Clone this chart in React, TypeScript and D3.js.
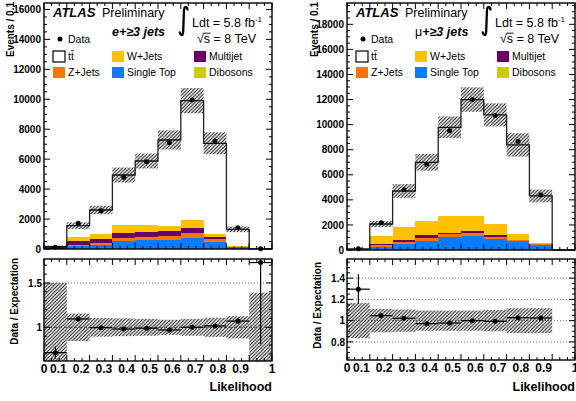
import { useRef, useEffect } from 'react';
import * as d3 from 'd3';

const FONT = "'Liberation Sans', Arial, Helvetica, sans-serif";

/* ── Data ──────────────────────────────────────────────────────── */
const BIN_LO = [0, 0.1, 0.2, 0.3, 0.4, 0.5, 0.6, 0.7, 0.8, 0.9];
const BIN_W = 0.1;

// stack order, bottom -> top
const KEYS = ['diboson', 'singletop', 'zjets', 'multijet', 'wjets', 'ttbar'];
const COLORS: Record<string, string> = {
  diboson: '#cccc00',
  singletop: '#0a7cff',
  zjets: '#ff7300',
  multijet: '#680068',
  wjets: '#ffc000',
  ttbar: '#ffffff',
};

// e + >=3 jets
const E_DIBOSON = [0, 10, 10, 15, 16, 16, 17, 12, 4, 0];
const E_SINGLETOP = [15, 190, 235, 520, 585, 585, 740, 478, 130, 0];
const E_ZJETS = [15, 90, 178, 222, 223, 290, 290, 178, 20, 0];
const E_MULTIJET = [100, 222, 223, 334, 312, 312, 356, 112, 10, 0];
const E_WJETS = [20, 312, 378, 513, 468, 357, 512, 244, 15, 0];
const E_TTBAR = [5, 733, 1581, 3339, 4274, 5721, 7992, 6036, 1137, 8];
const E_DATA = [110, 1717, 2560, 4788, 5834, 7100, 9953, 7214, 1423, 14];
const E_MCERR = [70, 220, 280, 500, 500, 640, 840, 730, 190, 3];
const E_RATIO = [0.714, 1.094, 0.996, 0.98, 0.99, 0.97, 1.0, 1.015, 1.07, 1.73];
const E_RATIO_ERR = [0.07, 0.03, 0.02, 0.015, 0.014, 0.013, 0.012, 0.014, 0.03, 0.92];
const E_BAND = [0.5, 0.155, 0.105, 0.1, 0.095, 0.085, 0.095, 0.107, 0.125, 0.39];

// mu + >=3 jets
const M_DIBOSON = [0, 10, 15, 18, 21, 24, 18, 15, 10, 0];
const M_SINGLETOP = [15, 256, 490, 700, 990, 1120, 860, 676, 362, 0];
const M_ZJETS = [5, 106, 133, 266, 239, 186, 186, 107, 80, 0];
const M_MULTIJET = [5, 80, 160, 213, 133, 213, 133, 26, 0, 0];
const M_WJETS = [15, 665, 1064, 1117, 1317, 1177, 877, 453, 133, 0];
const M_TTBAR = [40, 957, 2845, 4681, 7087, 9280, 8700, 7101, 3724, 0];
const M_DATA = [104, 2181, 4814, 6835, 9521, 12000, 10720, 8644, 4388, null];
const M_MCERR = [13, 240, 545, 665, 865, 970, 920, 930, 505, 0];
const M_RATIO = [1.296, 1.047, 1.022, 0.972, 0.978, 1.0, 0.994, 1.028, 1.025, null];
const M_RATIO_ERR = [0.14, 0.025, 0.015, 0.012, 0.01, 0.009, 0.01, 0.012, 0.016, 0];
const M_BAND = [0.165, 0.11, 0.105, 0.095, 0.095, 0.095, 0.1, 0.117, 0.117, 0];

const X_LABELS = ['0', '0.1', '0.2', '0.3', '0.4', '0.5', '0.6', '0.7', '0.8', '0.9', '1'];
const E_Y_LABELS = [0, 2000, 4000, 6000, 8000, 10000, 12000, 14000, 16000];
const M_Y_LABELS = [0, 2000, 4000, 6000, 8000, 10000, 12000, 14000, 16000, 18000];
const E_R_LABELS = [1, 1.5];
const M_R_LABELS = [0.8, 1, 1.2, 1.4];

const LEGEND = [
  { key: 'ttbar', label: 'tt', col: 0, row: 0 },
  { key: 'wjets', label: 'W+Jets', col: 1, row: 0 },
  { key: 'multijet', label: 'Multijet', col: 2, row: 0 },
  { key: 'zjets', label: 'Z+Jets', col: 0, row: 1 },
  { key: 'singletop', label: 'Single Top', col: 1, row: 1 },
  { key: 'diboson', label: 'Dibosons', col: 2, row: 1 },
];

const PANELS = [
  {
    id: 'e', left: 44, right: 272, topBottom: 249, yMax: 16430, yLabels: E_Y_LABELS,
    ratioBottom: 361, rMin: 0.62, rMax: 1.77, rLabels: E_R_LABELS, rMajor: 0.5, rMinor: 0.1,
    procs: { diboson: E_DIBOSON, singletop: E_SINGLETOP, zjets: E_ZJETS, multijet: E_MULTIJET, wjets: E_WJETS, ttbar: E_TTBAR },
    data: E_DATA, mcErr: E_MCERR, ratio: E_RATIO, ratioErr: E_RATIO_ERR, band: E_BAND,
    yTitleX: 14, rTitleX: 17.5, rTitleEnd: 258,
  },
  {
    id: 'mu', left: 347, right: 575, topBottom: 250, yMax: 19700, yLabels: M_Y_LABELS,
    ratioBottom: 360, rMin: 0.63, rMax: 1.58, rLabels: M_R_LABELS, rMajor: 0.2, rMinor: 0.05,
    procs: { diboson: M_DIBOSON, singletop: M_SINGLETOP, zjets: M_ZJETS, multijet: M_MULTIJET, wjets: M_WJETS, ttbar: M_TTBAR },
    data: M_DATA, mcErr: M_MCERR, ratio: M_RATIO, ratioErr: M_RATIO_ERR, band: M_BAND,
    yTitleX: 317.5, rTitleX: 321, rTitleEnd: 262,
  },
];

/* ── helpers ───────────────────────────────────────────────────── */
function tickValues(lo: number, hi: number, step: number) {
  const out: number[] = [];
  for (let k = Math.ceil(lo / step - 1e-9); k * step <= hi + 1e-9; k++) out.push(k * step);
  return out;
}
function isMajor(v: number, major: number) {
  return Math.abs(v / major - Math.round(v / major)) < 1e-6;
}

function yTicks(g: any, y: any, lo: number, hi: number, major: number, minor: number, xl: number, xr: number) {
  tickValues(lo, hi, minor).forEach(v => {
    const len = isMajor(v, major) ? 6 : 3;
    const yy = y(v);
    g.append('line').attr('x1', xl).attr('x2', xl + len).attr('y1', yy).attr('y2', yy);
    g.append('line').attr('x1', xr).attr('x2', xr - len).attr('y1', yy).attr('y2', yy);
  });
}
function xTicks(g: any, x: any, yb: number, yt: number) {
  d3.range(0, 31).forEach(k => {
    const len = k % 3 === 0 ? 6 : 3;
    const xx = x(k / 30);
    g.append('line').attr('x1', xx).attr('x2', xx).attr('y1', yb).attr('y2', yb - len);
    g.append('line').attr('x1', xx).attr('x2', xx).attr('y1', yt).attr('y2', yt + len);
  });
}

function drawPanel(svg: any, p: any) {
  const L = p.left, R = p.right;
  const x = d3.scaleLinear().domain([0, 1]).range([L, R]);
  const y = d3.scaleLinear().domain([0, p.yMax]).range([p.topBottom, 3]);
  const yr = d3.scaleLinear().domain([p.rMin, p.rMax]).range([p.ratioBottom, 259]);
  const g = svg.append('g').attr('font-family', FONT);

  // stacked MC
  const rows = BIN_LO.map((lo, i) => {
    const r: any = { lo };
    KEYS.forEach(k => { r[k] = p.procs[k][i]; });
    return r;
  });
  const totals = rows.map(r => d3.sum(KEYS, k => r[k]));
  const series = d3.stack().keys(KEYS)(rows);
  series.forEach((s: any) => {
    g.append('g').selectAll('rect').data(s).join('rect')
      .attr('shape-rendering', 'crispEdges')
      .attr('x', (d: any) => x(d.data.lo))
      .attr('width', (d: any) => x(d.data.lo + BIN_W) - x(d.data.lo))
      .attr('y', (d: any) => y(d[1]))
      .attr('height', (d: any) => Math.max(0, y(d[0]) - y(d[1])))
      .attr('fill', COLORS[s.key]);
  });

  // MC total outline
  const pts: [number, number][] = [[0, 0]];
  BIN_LO.forEach((lo, i) => { pts.push([lo, totals[i]]); pts.push([lo + BIN_W, totals[i]]); });
  pts.push([1, 0]);
  g.append('path')
    .attr('d', d3.line().x(d => x(d[0])).y(d => y(d[1]))(pts))
    .attr('fill', 'none').attr('stroke', '#222').attr('stroke-width', 1.3);

  // MC uncertainty band
  g.append('g').selectAll('rect').data(BIN_LO.map((lo, i) => ({ lo, t: totals[i], e: p.mcErr[i] })).filter(d => d.e > 0))
    .join('rect')
    .attr('x', d => x(d.lo)).attr('width', d => x(d.lo + BIN_W) - x(d.lo))
    .attr('y', d => y(d.t + d.e)).attr('height', d => y(Math.max(0, d.t - d.e)) - y(d.t + d.e))
    .attr('fill', 'url(#hatch)');

  // data
  const dpts = BIN_LO.map((lo, i) => ({ c: lo + BIN_W / 2, v: p.data[i] })).filter(d => d.v != null);
  g.append('g').selectAll('line').data(dpts).join('line')
    .attr('x1', d => x(d.c)).attr('x2', d => x(d.c))
    .attr('y1', d => y(d.v + Math.sqrt(d.v))).attr('y2', d => y(Math.max(0, d.v - Math.sqrt(d.v))))
    .attr('stroke', '#000').attr('stroke-width', 1.2);
  g.append('g').selectAll('circle').data(dpts).join('circle')
    .attr('cx', d => x(d.c)).attr('cy', d => y(d.v)).attr('r', 2.5).attr('fill', '#000');

  // top frame + ticks
  const ax = g.append('g').attr('stroke', '#000').attr('stroke-width', 1);
  yTicks(ax, y, 0, p.yMax, 2000, 500, L, R);
  xTicks(ax, x, p.topBottom, 3);
  g.append('rect').attr('x', L).attr('y', 3).attr('width', R - L).attr('height', p.topBottom - 3)
    .attr('fill', 'none').attr('stroke', '#000').attr('stroke-width', 1.4);
  g.append('g').selectAll('text').data(p.yLabels).join('text')
    .attr('x', L - 3).attr('y', (d: number) => y(d) + 3.6).attr('text-anchor', 'end')
    .attr('font-size', 10).attr('font-weight', 'bold').text((d: number) => String(d));
  g.append('text').attr('transform', `translate(${p.yTitleX},2) rotate(-90)`)
    .attr('text-anchor', 'end').attr('font-size', 10).attr('font-weight', 'bold').text('Events / 0.1');

  // ratio panel
  const clipId = `clip-${p.id}`;
  svg.select('defs').append('clipPath').attr('id', clipId)
    .append('rect').attr('x', L).attr('y', 259).attr('width', R - L).attr('height', p.ratioBottom - 259);
  const rg = g.append('g').attr('clip-path', `url(#${clipId})`);
  tickValues(p.rMin, p.rMax, p.rMajor).forEach(v => {
    rg.append('line').attr('x1', L).attr('x2', R).attr('y1', yr(v)).attr('y2', yr(v))
      .attr('stroke', '#444').attr('stroke-width', 0.8).attr('stroke-dasharray', v === 1 && p.id === 'e' ? '3,2' : '1,2');
  });
  rg.append('g').selectAll('rect').data(BIN_LO.map((lo, i) => ({ lo, b: p.band[i] })).filter(d => d.b > 0))
    .join('rect')
    .attr('x', d => x(d.lo)).attr('width', d => x(d.lo + BIN_W) - x(d.lo))
    .attr('y', d => yr(1 + d.b)).attr('height', d => yr(1 - d.b) - yr(1 + d.b))
    .attr('fill', 'url(#hatch)');
  const rpts = BIN_LO.map((lo, i) => ({ lo, r: p.ratio[i], e: p.ratioErr[i] })).filter(d => d.r != null);
  const rp = rg.append('g').attr('stroke', '#000').attr('stroke-width', 1.2);
  rp.selectAll('line.h').data(rpts).join('line').attr('class', 'h')
    .attr('x1', d => x(d.lo)).attr('x2', d => x(d.lo + BIN_W)).attr('y1', d => yr(d.r)).attr('y2', d => yr(d.r));
  rp.selectAll('line.v').data(rpts).join('line').attr('class', 'v')
    .attr('x1', d => x(d.lo + BIN_W / 2)).attr('x2', d => x(d.lo + BIN_W / 2))
    .attr('y1', d => yr(d.r + d.e)).attr('y2', d => yr(d.r - d.e));
  rg.append('g').selectAll('circle').data(rpts).join('circle')
    .attr('cx', d => x(d.lo + BIN_W / 2)).attr('cy', d => yr(d.r)).attr('r', 2.5).attr('fill', '#000');

  const rax = g.append('g').attr('stroke', '#000').attr('stroke-width', 1);
  yTicks(rax, yr, p.rMin, p.rMax, p.rMajor, p.rMinor, L, R);
  xTicks(rax, x, p.ratioBottom, 259);
  g.append('rect').attr('x', L).attr('y', 259).attr('width', R - L).attr('height', p.ratioBottom - 259)
    .attr('fill', 'none').attr('stroke', '#000').attr('stroke-width', 1.4);
  g.append('g').selectAll('text').data(p.rLabels).join('text')
    .attr('x', L - 2).attr('y', (d: number) => yr(d) + 3.6).attr('text-anchor', 'end')
    .attr('font-size', 10).attr('font-weight', 'bold').text((d: number) => String(d));
  g.append('text').attr('transform', `translate(${p.rTitleX},${p.rTitleEnd}) rotate(-90)`)
    .attr('text-anchor', 'end').attr('font-size', 10).attr('font-weight', 'bold').text('Data / Expectation');
  g.append('g').selectAll('text').data(X_LABELS).join('text')
    .attr('x', (d: string, i: number) => (i === 0 || i === 10) ? x(i / 10) : x(i / 10) - 8.5)
    .attr('y', p.ratioBottom + 12).attr('text-anchor', 'middle')
    .attr('font-size', 12).attr('font-weight', 'bold').text((d: string) => d);
  g.append('text').attr('x', R).attr('y', 391).attr('text-anchor', 'end')
    .attr('font-size', 12.5).attr('font-weight', 'bold').text('Likelihood');

  // labels and legend
  g.append('text').attr('x', L + 9).attr('y', 17).attr('font-size', 13)
    .attr('font-weight', 'bold').attr('font-style', 'italic').text('ATLAS');
  g.append('text').attr('x', L + 58).attr('y', 17).attr('font-size', 12.5).text('Preliminary');
  const ix = L + 136;
  g.append('path')
    .attr('d', `M${ix + 7.5},9.5 Q${ix + 6.8},6.5 ${ix + 5.2},7 Q${ix + 3.9},7.8 ${ix + 3.9},12 L${ix + 3.2},31 Q${ix + 3},35.5 ${ix + 1.5},35 Q${ix + 0.2},34.7 ${ix - 0.2},32.5`)
    .attr('fill', 'none').attr('stroke', '#000').attr('stroke-width', 2.3).attr('stroke-linecap', 'round');
  const ldt = g.append('text').attr('x', L + 148).attr('y', 27).attr('font-size', 12.5);
  ldt.append('tspan').text('Ldt = 5.8 fb');
  ldt.append('tspan').attr('dy', -5).attr('font-size', 8).text('-1');
  const rs = g.append('text').attr('x', L + 153).attr('y', 43).attr('font-size', 12.5).text('\u221As = 8 TeV');
  const node = rs.node() as any;
  try {
    const sx = node.getStartPositionOfChar(1).x;
    const sw = node.getSubStringLength(1, 1);
    g.append('line').attr('x1', sx - 0.5).attr('x2', sx + sw + 0.5).attr('y1', 33.2).attr('y2', 33.2)
      .attr('stroke', '#000').attr('stroke-width', 0.9);
  } catch (e) { /* no layout */ }

  const ch = g.append('text').attr('x', L + 68).attr('y', 36).attr('font-size', 12.5);
  if (p.id === 'mu') {
    ch.append('tspan').text('\u03BC');
    ch.append('tspan').attr('font-weight', 'bold').attr('font-style', 'italic').text('+\u22653 jets');
  } else {
    ch.append('tspan').attr('font-weight', 'bold').attr('font-style', 'italic').text('e+\u22653 jets');
  }

  g.append('circle').attr('cx', L + 16).attr('cy', 39).attr('r', 2.5).attr('fill', '#000');
  g.append('text').attr('x', L + 24).attr('y', 43).attr('font-size', 10.5).text('Data');
  const colBox = [9, 68, 150];
  const rowY = [51, 67];
  LEGEND.forEach(it => {
    const bx = L + colBox[it.col], by = rowY[it.row];
    g.append('rect').attr('x', bx).attr('y', by).attr('width', 12).attr('height', 11)
      .attr('fill', COLORS[it.key])
      .attr('stroke', it.key === 'ttbar' ? '#000' : 'none').attr('stroke-width', 1.2);
    g.append('text').attr('x', bx + 15).attr('y', by + 8.5).attr('font-size', 10.5).text(it.label);
    if (it.key === 'ttbar') {
      g.append('line').attr('x1', bx + 18).attr('x2', bx + 21).attr('y1', by - 0.3).attr('y2', by - 0.3)
        .attr('stroke', '#000').attr('stroke-width', 0.8);
    }
  });
}

export default function App() {
  const svgRef = useRef<SVGSVGElement>(null);

  useEffect(() => {
    const svg = d3.select(svgRef.current);
    svg.selectAll('*').remove();
    const defs = svg.append('defs');
    const pat = defs.append('pattern').attr('id', 'hatch')
      .attr('patternUnits', 'userSpaceOnUse').attr('width', 3.5).attr('height', 3.5);
    pat.append('path').attr('d', 'M-1,1 l2,-2 M0,3.5 l3.5,-3.5 M2.5,4.5 l2,-2')
      .attr('stroke', '#000').attr('stroke-width', 0.95);
    PANELS.forEach(p => drawPanel(svg, p));
  }, []);

  return (
    <svg ref={svgRef} width={576} height={401}
      style={{ position: 'absolute', left: 0, top: 0, background: '#fff' }} />
  );
}
